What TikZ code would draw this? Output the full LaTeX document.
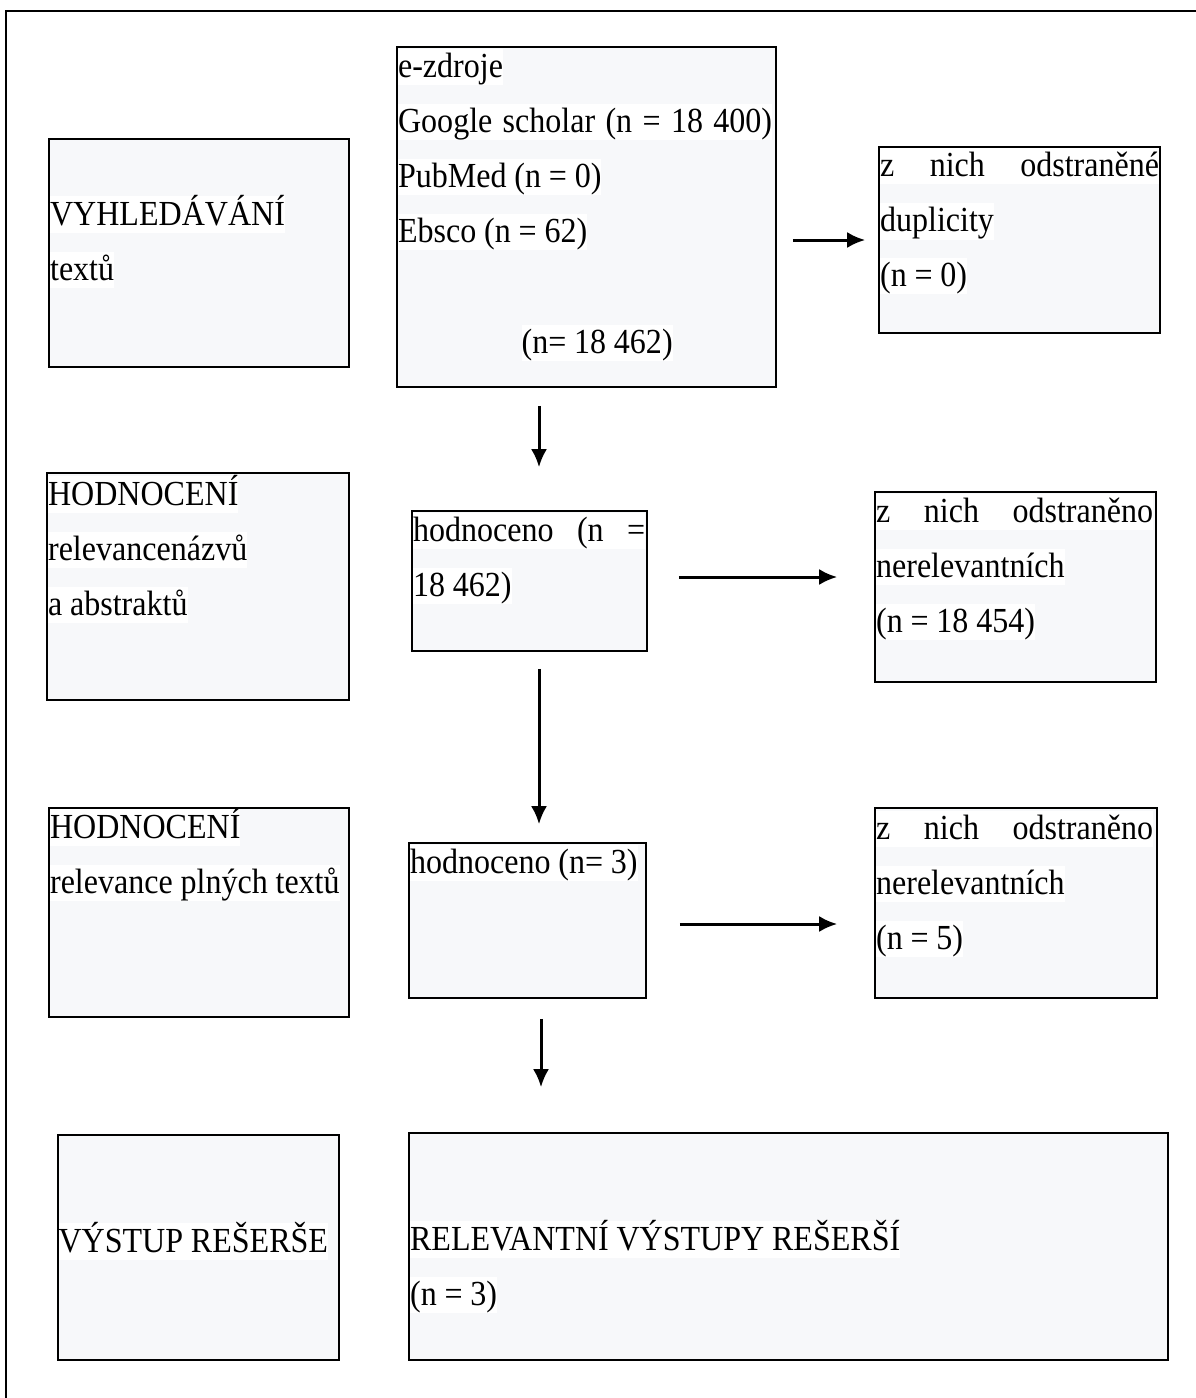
\documentclass[tikz,border=0pt]{standalone}
\usepackage{fontspec}
\setmainfont{Liberation Serif}[FakeStretch=0.91]
\usetikzlibrary{arrows.meta,calc}

\definecolor{boxfill}{HTML}{F7F8FA}
% white line highlight, as the source text boxes have
\newcommand{\hl}[1]{{\fboxsep=0pt\colorbox{white}{\spaceskip=3.9pt\relax\rule[-3.65pt]{0pt}{18.3pt}#1}}}
\newcommand{\hlfull}[2]{{\fboxsep=0pt\colorbox{white}{\rule[-3.65pt]{0pt}{18.3pt}\makebox[#1][l]{#2}}}}

\begin{document}
\begin{tikzpicture}[x=0.5pt,y=-0.5pt,>={Latex[length=9pt,width=8pt]}]
	\tikzset{box/.style={draw, line width=0.8pt, fill=boxfill, inner sep=0pt}}
	\tikzset{txt/.style={anchor=north west, inner sep=0pt, align=left, font=\fontsize{17.6pt}{27.5pt}\selectfont}}
	\tikzset{arr/.style={->, line width=1.5pt}}
	\useasboundingbox (0,0) rectangle (1195,1398);
	\draw[line width=1pt] (6,1420) |- (1220,11);

	% boxes
	\node[box, minimum width=150pt, minimum height=114pt]		(search)	at (199,253)		{};
	\node[box, minimum width=189.5pt, minimum height=170pt]	(sources)	at (586.5,217)		{};
	\node[box, minimum width=140.5pt, minimum height=93pt]		(dupl)		at (1019.5,240)		{};
	\node[box, minimum width=151pt, minimum height=113.5pt]	(abstr)		at (198,586.5)		{};
	\node[box, minimum width=117.5pt, minimum height=70pt]		(eval1)		at (529.5,581)		{};
	\node[box, minimum width=140.5pt, minimum height=95pt]		(irrel1)	at (1015.5,587)		{};
	\node[box, minimum width=150pt, minimum height=104.5pt]	(fulltx)	at (199,912.5)		{};
	\node[box, minimum width=118.5pt, minimum height=77.5pt]	(eval2)		at (527.5,920.5)	{};
	\node[box, minimum width=141pt, minimum height=95pt]		(irrel2)	at (1016,903)		{};
	\node[box, minimum width=140.5pt, minimum height=112.5pt]	(output)	at (198.5,1247.5)	{};
	\node[box, minimum width=379.5pt, minimum height=113.5pt]	(result)	at (788.5,1246.5)	{};

	% texts
	\node[txt, text width=148pt]	(searchT)	at ([shift={(1.5,57)}]search.north west)
		{\hl{VYHLEDÁVÁNÍ}\\ \hl{textů}};
	\node[txt, text width=188pt]	(sourcesT)	at ([shift={(1.5,2)}]sources.north west)
		{\hl{e-zdroje}\\ \hlfull{187pt}{Google\hfill scholar\hfill (n\hfill =\hfill 18\hfill 400)}\\ \hl{PubMed (n = 0)}\\ \hl{Ebsco (n = 62)}\\[28pt]
		 \hspace*{61.75pt}\hl{(n= 18 462)}};
	\node[txt, text width=140pt]	(duplT)		at ([shift={(1.5,1)}]dupl.north west)
		{\hlfull{139.5pt}{z\hfill nich\hfill odstraněné}\\ \hl{duplicity}\\ \hl{(n = 0)}};
	\node[txt, text width=150pt]	(abstrT)	at ([shift={(1.5,3)}]abstr.north west)
		{\hl{HODNOCENÍ}\\ \hl{relevancenázvů}\\ \hl{a abstraktů}};
	\node[txt, text width=117pt]	(eval1T)	at ([shift={(1.5,2)}]eval1.north west)
		{\hlfull{116pt}{hodnoceno\hfill (n\hfill =}\\ \hl{18 462)}};
	\node[txt, text width=140pt]	(irrel1T)	at ([shift={(1.5,2)}]irrel1.north west)
		{\hlfull{138.5pt}{z\hfill nich\hfill odstraněno}\\ \hl{nerelevantních}\\ \hl{(n = 18 454)}};
	\node[txt, text width=149pt]	(fulltxT)	at ([shift={(1.5,1)}]fulltx.north west)
		{\hl{HODNOCENÍ}\\ \hl{relevance plných textů}};
	\node[txt, text width=118pt]	(eval2T)	at ([shift={(1.5,2)}]eval2.north west)
		{\hl{hodnoceno (n= 3)}};
	\node[txt, text width=140pt]	(irrel2T)	at ([shift={(1.5,3)}]irrel2.north west)
		{\hlfull{138.5pt}{z\hfill nich\hfill odstraněno}\\ \hl{nerelevantních}\\ \hl{(n = 5)}};
	\node[txt, text width=140pt]	(outputT)	at ([shift={(1,88)}]output.north west)
		{\hl{VÝSTUP REŠERŠE}};
	\node[txt, text width=378pt]	(resultT)	at ([shift={(1.5,88)}]result.north west)
		{\hl{RELEVANTNÍ VÝSTUPY REŠERŠÍ}\\ \hl{(n = 3)}};

	\path
		($(sources.east)+(16,23)$)		edge[arr]	($(dupl.west)+(-13,0)$)
		($(sources.south)+(-47.5,18)$)	edge[arr]	($(eval1.north)+(9.5,-43)$)
		($(eval1.east)+(31,-4)$)		edge[arr]	($(irrel1.west)+(-37,-10)$)
		($(eval1.south)+(9.5,17)$)		edge[arr]	($(eval2.north)+(11.5,-18)$)
		($(eval2.east)+(33,3.5)$)		edge[arr]	($(irrel2.west)+(-37,21)$)
		($(eval2.south)+(13.5,20)$)		edge[arr]	($(result.north)+(-247.5,-45)$)
		;
\end{tikzpicture}
\end{document}
